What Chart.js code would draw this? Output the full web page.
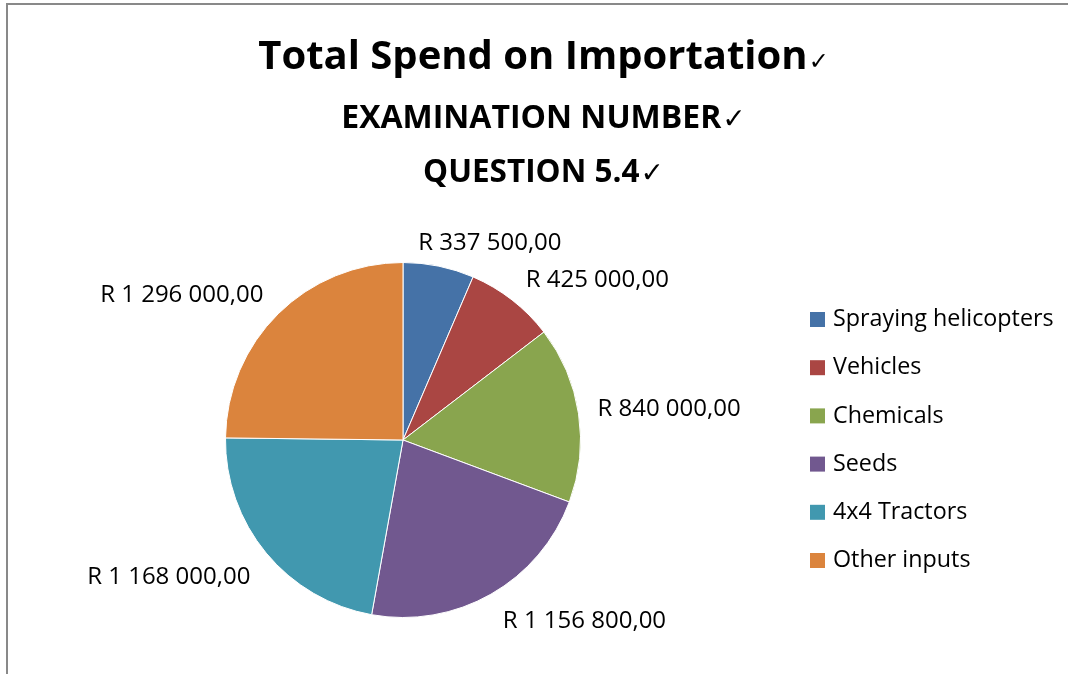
<!DOCTYPE html>
<html>
<head>
<meta charset="utf-8">
<script src="https://cdn.jsdelivr.net/npm/chart.js@4/dist/chart.umd.min.js"></script>
<style>
  html, body { margin: 0; padding: 0; background: #fff; overflow: hidden; }
</style>
</head>
<body>
<canvas id="pieChart" width="1068" height="674"></canvas>
<script>
const categories = ['Spraying helicopters', 'Vehicles', 'Chemicals', 'Seeds', '4x4 Tractors', 'Other inputs'];
const spend = [337500, 425000, 840000, 1156800, 1168000, 1296000];
const labelsText = ['R 337 500,00', 'R 425 000,00', 'R 840 000,00', 'R 1 156 800,00', 'R 1 168 000,00', 'R 1 296 000,00'];
const colours = ['#4572A7', '#AA4643', '#89A54E', '#71588F', '#4198AF', '#DB843D'];

const titleLines = [
  { text: 'Total Spend on Importation', size: 40, check: 24, y: 69 },
  { text: 'EXAMINATION NUMBER', size: 32, check: 28, y: 128 },
  { text: 'QUESTION 5.4', size: 31.5, check: 28, y: 182 }
];

const FONT = '"Open Sans", sans-serif';

// chart frame, only left and top edges are inside the picture
const frame = {
  id: 'frame',
  beforeDraw(chart) {
    const ctx = chart.ctx;
    ctx.save();
    ctx.fillStyle = '#898989';
    ctx.fillRect(6, 3, 2, 674);
    ctx.fillRect(6, 3, 1068, 2);
    ctx.restore();
  }
};

// titles, data labels and legend are painted after the pie
const extras = {
  id: 'extras',
  afterDraw(chart) {
    const ctx = chart.ctx;
    ctx.save();
    ctx.fillStyle = '#000';
    ctx.textBaseline = 'alphabetic';

    titleLines.forEach(l => {
      ctx.font = 'bold ' + l.size + 'px ' + FONT;
      const w1 = ctx.measureText(l.text).width;
      ctx.font = l.check + 'px "DejaVu Sans"';
      const w2 = ctx.measureText('\u2713').width;
      const x0 = 543 - (w1 + w2) / 2;
      ctx.textAlign = 'left';
      ctx.font = 'bold ' + l.size + 'px ' + FONT;
      ctx.fillText(l.text, x0, l.y);
      ctx.font = l.check + 'px "DejaVu Sans"';
      ctx.fillText('\u2713', x0 + w1 + 1, l.y);
    });

    // data labels outside each slice
    const meta = chart.getDatasetMeta(0);
    ctx.font = '24px ' + FONT;
    ctx.textAlign = 'center';
    ctx.textBaseline = 'middle';
    meta.data.forEach((arc, i) => {
      const p = arc.getProps(['x', 'y', 'startAngle', 'endAngle', 'outerRadius'], true);
      const mid = (p.startAngle + p.endAngle) / 2;
      const r = p.outerRadius + 14;
      const c = Math.cos(mid), s = Math.sin(mid);
      const ax = p.x + c * r + Math.sign(c) * 5;
      const ay = p.y + s * r + 3;
      const w = ctx.measureText(labelsText[i]).width;
      const h = 24;
      const kx = Math.max(-1, Math.min(1, c * 3));
      const ky = Math.max(-1, Math.min(1, s * 3));
      ctx.fillText(labelsText[i], ax + kx * w / 2, ay + ky * h / 2);
    });

    // legend
    ctx.textAlign = 'left';
    ctx.font = '23.3px ' + FONT;
    categories.forEach((c, i) => {
      const cy = 319.5 + i * 48.2;
      ctx.fillStyle = colours[i];
      ctx.fillRect(810, cy - 7.5, 15, 15);
      ctx.fillStyle = '#000';
      ctx.fillText(c, 833, cy);
    });
    ctx.restore();
  }
};

new Chart(document.getElementById('pieChart'), {
  type: 'pie',
  data: {
    labels: categories,
    datasets: [{
      data: spend,
      backgroundColor: colours,
      borderColor: '#ffffff',
      borderWidth: 1
    }]
  },
  options: {
    responsive: false,
    animation: false,
    layout: { padding: { top: 262, bottom: 56, left: 224, right: 486 } },
    plugins: {
      legend: { display: false },
      title: { display: false },
      tooltip: { enabled: false }
    }
  },
  plugins: [frame, extras]
});
</script>
</body>
</html>
